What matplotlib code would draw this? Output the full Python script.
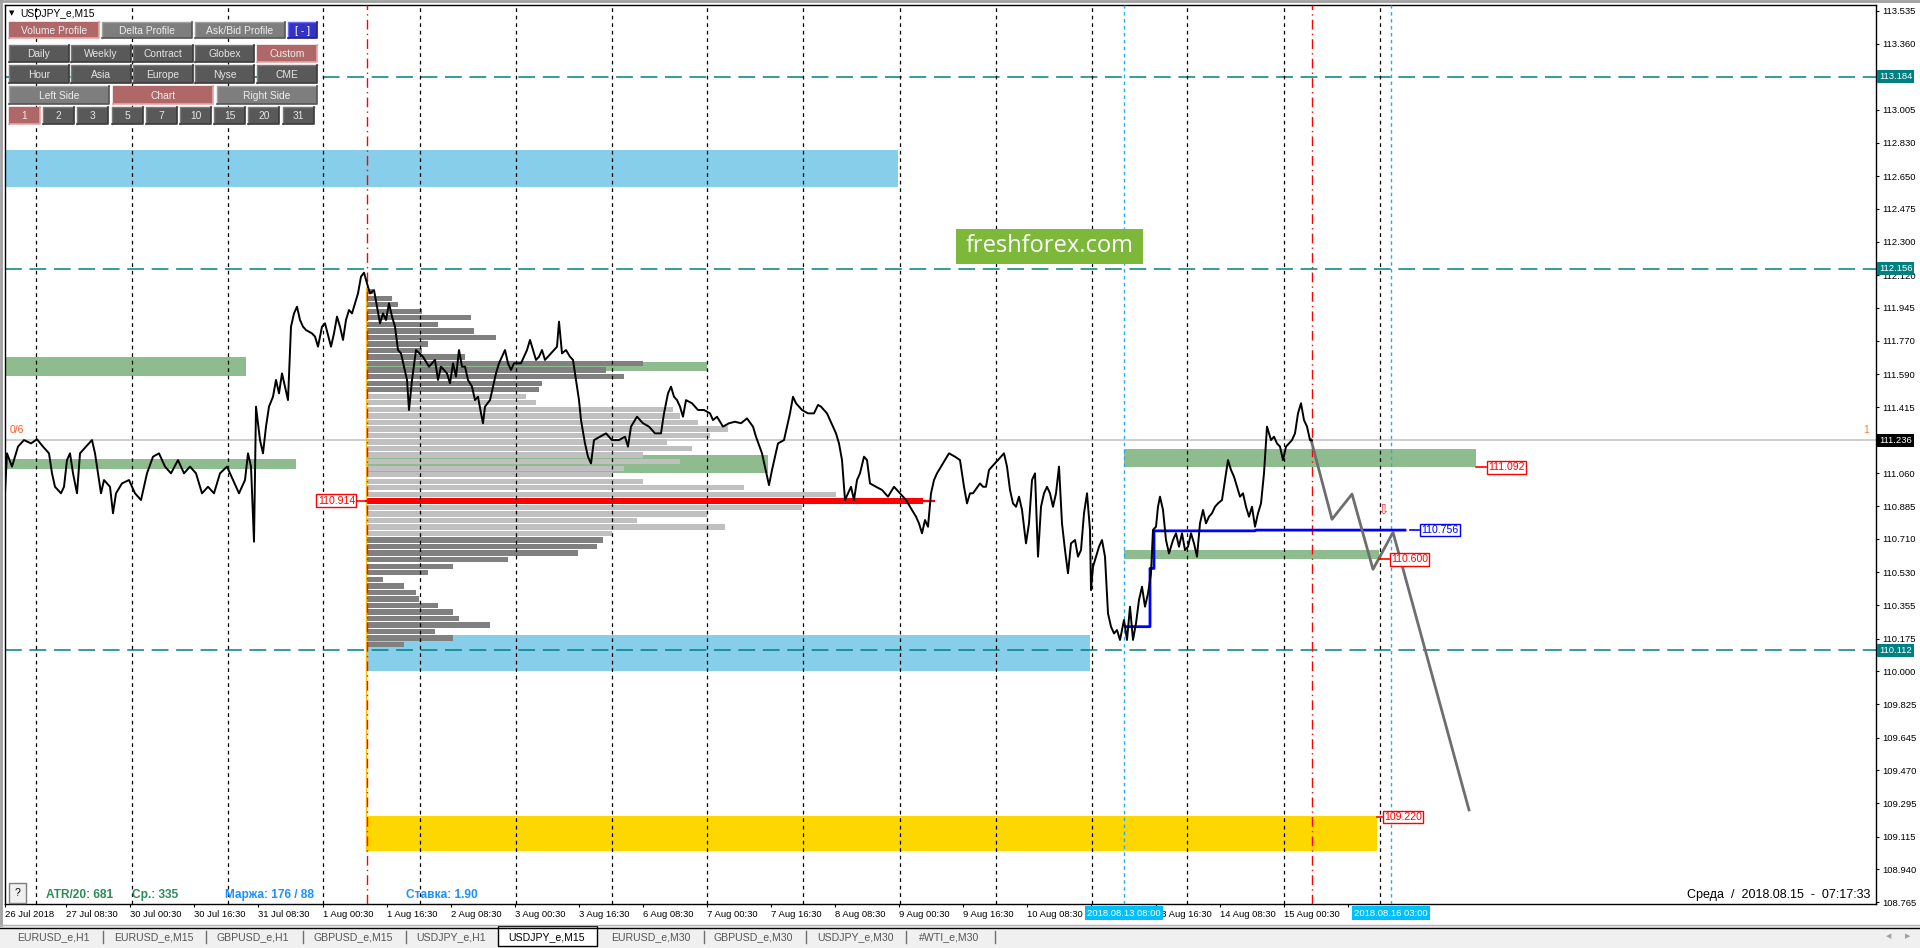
import matplotlib
matplotlib.use("Agg")
import matplotlib.pyplot as plt
from matplotlib.patches import Rectangle

plt.rcParams['font.family'] = ['Liberation Sans', 'DejaVu Sans']

# ---- USDJPY M15, bar index (one bar per pixel column) and price
bar_idx = [5, 7, 12, 18, 24, 31, 37, 43, 49, 52,
           55, 61, 64, 67, 70, 73, 77, 80, 86, 92,
           95, 98, 101, 104, 110, 113, 116, 122, 129, 135,
           141, 147, 153, 159, 165, 171, 178, 184, 190, 196,
           202, 208, 214, 220, 227, 233, 239, 245, 248, 251,
           254, 256, 260, 263, 266, 269, 273, 276, 279, 282,
           285, 288, 291, 294, 297, 300, 303, 306, 312, 315,
           318, 322, 325, 331, 334, 337, 340, 343, 346, 349,
           352, 355, 358, 361, 364, 367, 370, 374, 377, 380,
           383, 386, 389, 392, 395, 398, 401, 404, 407, 409,
           412, 416, 423, 429, 435, 438, 441, 447, 450, 453,
           456, 459, 462, 465, 468, 472, 475, 478, 481, 483,
           485, 490, 493, 496, 499, 502, 505, 508, 511, 514,
           521, 527, 530, 533, 536, 539, 542, 545, 551, 554,
           557, 559, 562, 566, 570, 573, 576, 579, 581, 585,
           588, 591, 594, 600, 606, 612, 619, 625, 628, 631,
           637, 643, 649, 655, 661, 664, 668, 671, 674, 677,
           680, 683, 686, 692, 698, 704, 710, 713, 717, 723,
           729, 735, 741, 747, 753, 756, 762, 769, 772, 778,
           784, 787, 790, 793, 796, 802, 808, 814, 818, 821,
           827, 830, 833, 836, 839, 842, 845, 848, 851, 854,
           857, 860, 864, 867, 870, 876, 882, 888, 894, 900,
           906, 912, 916, 919, 922, 925, 928, 931, 934, 937,
           943, 949, 955, 960, 964, 967, 970, 973, 980, 983,
           986, 989, 992, 998, 1001, 1004, 1007, 1010, 1013, 1016,
           1019, 1022, 1026, 1029, 1032, 1035, 1038, 1041, 1044, 1047,
           1050, 1053, 1056, 1059, 1062, 1065, 1068, 1071, 1075, 1078,
           1081, 1084, 1087, 1090, 1091, 1093, 1096, 1099, 1102, 1105,
           1108, 1111, 1114, 1117, 1120, 1124, 1127, 1130, 1133, 1136,
           1139, 1142, 1145, 1148, 1151, 1153, 1156, 1158, 1160, 1163,
           1166, 1169, 1173, 1176, 1179, 1182, 1185, 1188, 1191, 1194,
           1197, 1200, 1203, 1206, 1209, 1212, 1215, 1218, 1222, 1225,
           1228, 1231, 1234, 1237, 1240, 1243, 1246, 1249, 1252, 1255,
           1258, 1261, 1264, 1267, 1271, 1274, 1277, 1280, 1283, 1286,
           1289, 1292, 1295, 1298, 1301, 1304, 1307, 1310, 1312]
close = [110.953, 111.167, 111.096, 111.203, 111.238, 111.220, 111.242, 111.203, 111.167, 111.060,
         110.988, 110.953, 110.988, 111.131, 111.167, 111.060, 110.953, 111.167, 111.203, 111.238,
         111.167, 111.060, 110.953, 111.024, 110.988, 110.846, 110.953, 111.006, 111.024, 110.953,
         110.917, 111.060, 111.149, 111.167, 111.096, 111.060, 111.131, 111.060, 111.096, 111.060,
         110.953, 110.988, 110.953, 111.060, 111.096, 111.024, 110.953, 111.024, 111.167, 111.096,
         110.694, 111.417, 111.238, 111.167, 111.310, 111.417, 111.470, 111.560, 111.488, 111.595,
         111.524, 111.452, 111.845, 111.916, 111.952, 111.881, 111.845, 111.827, 111.809, 111.792,
         111.738, 111.845, 111.863, 111.738, 111.809, 111.899, 111.845, 111.774, 111.881, 111.934,
         111.916, 111.970, 112.023, 112.113, 112.134, 112.077, 112.023, 112.041, 111.952, 111.863,
         111.916, 111.881, 111.970, 111.899, 111.845, 111.720, 111.702, 111.631, 111.560, 111.399,
         111.560, 111.720, 111.684, 111.631, 111.667, 111.560, 111.631, 111.595, 111.542, 111.649,
         111.577, 111.720, 111.631, 111.631, 111.560, 111.524, 111.452, 111.470, 111.381, 111.328,
         111.417, 111.452, 111.524, 111.595, 111.649, 111.684, 111.720, 111.649, 111.613, 111.649,
         111.649, 111.720, 111.774, 111.720, 111.667, 111.684, 111.720, 111.667, 111.702, 111.720,
         111.738, 111.872, 111.702, 111.720, 111.684, 111.667, 111.560, 111.452, 111.345, 111.220,
         111.149, 111.113, 111.238, 111.256, 111.274, 111.238, 111.238, 111.256, 111.203, 111.310,
         111.363, 111.328, 111.310, 111.274, 111.274, 111.381, 111.488, 111.524, 111.470, 111.452,
         111.417, 111.363, 111.452, 111.435, 111.399, 111.399, 111.381, 111.345, 111.363, 111.310,
         111.328, 111.336, 111.328, 111.354, 111.310, 111.256, 111.167, 110.997, 111.078, 111.220,
         111.238, 111.310, 111.381, 111.470, 111.435, 111.399, 111.381, 111.381, 111.426, 111.417,
         111.381, 111.345, 111.310, 111.274, 111.220, 111.131, 110.917, 110.953, 110.988, 110.917,
         111.024, 111.060, 111.149, 111.131, 111.006, 110.988, 110.971, 110.935, 110.988, 110.953,
         110.917, 110.864, 110.828, 110.792, 110.739, 110.810, 110.774, 110.953, 111.024, 111.060,
         111.113, 111.167, 111.149, 111.131, 110.988, 110.899, 110.953, 110.953, 111.006, 110.988,
         110.988, 111.078, 111.096, 111.131, 111.149, 111.167, 111.096, 110.971, 110.899, 110.881,
         110.935, 110.864, 110.685, 110.792, 111.024, 111.060, 110.614, 110.881, 110.953, 110.988,
         110.953, 110.881, 110.953, 111.096, 110.792, 110.649, 110.525, 110.685, 110.703, 110.614,
         110.649, 110.846, 110.953, 110.757, 110.435, 110.560, 110.614, 110.667, 110.703, 110.614,
         110.310, 110.239, 110.203, 110.221, 110.168, 110.275, 110.168, 110.346, 110.168, 110.257,
         110.382, 110.453, 110.346, 110.417, 110.525, 110.757, 110.774, 110.881, 110.935, 110.864,
         110.703, 110.631, 110.703, 110.739, 110.667, 110.739, 110.649, 110.667, 110.739, 110.685,
         110.614, 110.792, 110.864, 110.792, 110.828, 110.846, 110.881, 110.899, 110.917, 111.024,
         111.131, 111.078, 111.042, 110.988, 110.935, 110.953, 110.881, 110.828, 110.881, 110.774,
         110.846, 110.899, 111.060, 111.310, 111.238, 111.256, 111.220, 111.203, 111.131, 111.203,
         111.220, 111.238, 111.274, 111.381, 111.435, 111.345, 111.310, 111.238, 111.236]

# zones: (first bar, last bar, low price, high price)
blue_zones = [(6, 898, 112.593, 112.791), (366, 1090, 110.002, 110.195)]
green_zones = [(5, 246, 111.581, 111.683), (5, 296, 111.083, 111.137),
               (366, 707, 111.608, 111.656), (366, 768, 111.062, 111.158),
               (1124, 1476, 111.094, 111.190), (1124, 1379, 110.601, 110.650)]
gold_zone = (367, 1377, 109.038, 109.226)

teal_levels = [113.184, 112.156, 110.112]
last_price = 111.236

# volume profile of the 1 Aug - 15 Aug range
prof_start = 366
prof_top = 112.05
prof_step = 0.035
prof_len = [7, 26, 32, 56, 105, 72, 108, 130, 62, 56,
            99, 277, 240, 258, 176, 173, 160, 170, 307, 314,
            332, 362, 344, 301, 326, 277, 314, 258, 246, 277,
            378, 470, 557, 436, 341, 271, 359, 246, 237, 231,
            212, 142, 87, 62, 17, 38, 50, 53, 72, 87,
            93, 124, 69, 87, 38]
poc_price = 110.914
va_high, va_low = 111.48, 110.72

# developing level (blue) and the drawn forecast path (gray)
vwap_x = [1126, 1150, 1150, 1154, 1154, 1255, 1256, 1405]
vwap_y = [110.239, 110.239, 110.551, 110.551, 110.752, 110.752, 110.756, 110.756]
fc_x = [1311, 1332, 1352, 1373, 1393, 1469]
fc_y = [111.24, 110.814, 110.949, 110.546, 110.744, 109.258]

day_lines = [36, 132, 228, 323, 420, 516, 612, 707, 803, 900, 996, 1092, 1187, 1284, 1380]
red_vlines = [367, 1312]
cyan_vlines = [1124, 1391]
cyan_dates = ['2018.08.13 08:00', '2018.08.16 03:00']

# the labels at 13 Aug 00:30 and 15 Aug 16:30 sit under the cyan date boxes
x_tick_bars = [5, 66, 130, 194, 258, 323, 387, 451, 515, 579, 643, 707, 771, 835,
               899, 963, 1027, 1091, 1156, 1220, 1284, 1348]
x_tick_labels = ['26 Jul 2018', '27 Jul 08:30', '30 Jul 00:30', '30 Jul 16:30', '31 Jul 08:30',
                 '1 Aug 00:30', '1 Aug 16:30', '2 Aug 08:30', '3 Aug 00:30', '3 Aug 16:30',
                 '6 Aug 08:30', '7 Aug 00:30', '7 Aug 16:30', '8 Aug 08:30', '9 Aug 00:30',
                 '9 Aug 16:30', '10 Aug 08:30', '', '13 Aug 16:30', '14 Aug 08:30',
                 '15 Aug 00:30', '']
y_ticks = [113.535, 113.360, 113.005, 112.830, 112.650, 112.475, 112.300, 112.120,
           111.945, 111.770, 111.590, 111.415, 111.060, 110.885, 110.710, 110.530,
           110.355, 110.175, 110.000, 109.825, 109.645, 109.470, 109.295, 109.115,
           108.940, 108.765]

tab_names = ['EURUSD_e,H1', 'EURUSD_e,M15', 'GBPUSD_e,H1', 'GBPUSD_e,M15', 'USDJPY_e,H1',
             'USDJPY_e,M15', 'EURUSD_e,M30', 'GBPUSD_e,M30', 'USDJPY_e,M30', '#WTI_e,M30']
active_tab = 'USDJPY_e,M15'

# ---------------------------------------------------------------- figure
W, H = 1920, 948
fig = plt.figure(figsize=(W / 100, H / 100), dpi=100)
fig.patch.set_facecolor('white')
L, R, T, B = 5, 1876, 5, 904
ax = fig.add_axes([L / W, 1 - B / H, (R - L) / W, (B - T) / H])
ax.set_xlim(L, R)
ax.set_ylim(108.7545, 113.567)
for s in ax.spines.values():
    s.set_color('black')
    s.set_linewidth(1)

# zones
for x0, x1, lo, hi in blue_zones:
    ax.add_patch(Rectangle((x0, lo), x1 - x0, hi - lo, fc='#87CEEB', ec='none', zorder=1))
for x0, x1, lo, hi in green_zones:
    ax.add_patch(Rectangle((x0, lo), x1 - x0, hi - lo, fc='#8FBC8F', ec='none', zorder=1))
g0, g1, glo, ghi = gold_zone
ax.add_patch(Rectangle((g0, glo), g1 - g0, ghi - glo, fc='#FFD700', ec='none', zorder=1))

# horizontal levels
for lv in teal_levels:
    ax.axhline(lv, color='#008080', lw=1.1, ls=(0, (11, 5)), zorder=2)
ax.axhline(last_price, color='#C0C0C0', lw=1.1, zorder=2)

# volume profile
levels = [prof_top - prof_step * (i + 0.5) for i in range(len(prof_len))]
colors = []
for p in levels:
    if abs(p - poc_price) < prof_step / 2:
        colors.append('#FF0000')
    elif va_low <= p <= va_high:
        colors.append('#C0C0C0')
    else:
        colors.append('#808080')
ax.barh(levels, prof_len, left=prof_start, height=prof_step * 0.82, color=colors, zorder=3)
ax.plot([prof_start, prof_start + 568], [poc_price, poc_price], color='#FF0000', lw=1.6, zorder=4.5)
ax.plot([prof_start, prof_start], [gold_zone[2], prof_top], color='#FFC000', lw=1, zorder=4)

# vertical separators
for x in day_lines:
    ax.axvline(x, color='black', lw=0.9, ls=(0, (3, 3)), zorder=4)
for x in red_vlines:
    ax.axvline(x, color='#FF0000', lw=1, ls=(0, (7, 3, 1, 3)), zorder=4)
for x in cyan_vlines:
    ax.axvline(x, color='#1EAEEA', lw=1, ls=(0, (2.5, 2.5)), zorder=4)

# lines
ax.plot(vwap_x, vwap_y, color='#0000FF', lw=2, zorder=5)
ax.plot(fc_x, fc_y, color='#6E6E6E', lw=2, zorder=5)
ax.plot(bar_idx, close, color='black', lw=1.4, zorder=6)


def tag(x, price, text, color, tick=10):
    ax.plot([x, x + tick], [price, price], color=color, lw=1.2, zorder=7)
    ax.text(x + tick + 2, price, text, color=color, fontsize=7.6, ha='left', va='center', zorder=8,
            bbox=dict(boxstyle='square,pad=0.12', fc='white', ec=color, lw=1))


tag(1476, 111.092, '111.092', '#FF0000')
tag(1379, 110.600, '110.600', '#FF0000')
tag(1377, 109.220, '109.220', '#FF0000', tick=5)
tag(1410, 110.756, '110.756', '#0000FF', tick=9)
ax.plot([prof_start - 9, prof_start], [poc_price, poc_price], color='#FF0000', lw=1.2, zorder=7)
ax.text(prof_start - 11, poc_price, '110.914', color='#FF0000', fontsize=7.6, ha='right',
        va='center', zorder=8, bbox=dict(boxstyle='square,pad=0.12', fc='white', ec='#FF0000', lw=1))

ax.text(1383, 110.869, '\u21e9', color='#FF3030', fontsize=10, ha='center', va='center', zorder=8,
        family=['DejaVu Sans'])
ax.text(10, 111.292, '0/6', color='#FF5722', fontsize=7.5, ha='left', va='center', zorder=8)
ax.text(1869, 111.292, '1', color='#FF7F27', fontsize=7.5, ha='right', va='center', zorder=8)

# axes ticks
ax.yaxis.tick_right()
ax.set_yticks(y_ticks)
ax.set_yticklabels(['%.3f' % v for v in y_ticks])
ax.tick_params(axis='y', labelsize=6.8, length=2.2, pad=2, direction='out')
ax.set_xticks(x_tick_bars)
ax.set_xticklabels(x_tick_labels)
ax.tick_params(axis='x', labelsize=6.8, length=2.5, pad=1.5, direction='out')
for lbl in ax.get_xticklabels():
    lbl.set_horizontalalignment('left')


def axis_tag(price, text, fc):
    ax.annotate(text, xy=(1, price), xycoords=('axes fraction', 'data'), xytext=(3, 0),
                textcoords='offset pixels', ha='left', va='center', fontsize=6.8, color='white',
                annotation_clip=False, zorder=9,
                bbox=dict(boxstyle='square,pad=0.2', fc=fc, ec='none'))


for lv in teal_levels:
    axis_tag(lv, '%.3f' % lv, '#008080')
axis_tag(last_price, '%.3f' % last_price, 'black')

for x, txt in zip(cyan_vlines, cyan_dates):
    ax.annotate(txt, xy=(x, 0), xycoords=('data', 'axes fraction'), xytext=(0, -9),
                textcoords='offset pixels', ha='center', va='center', fontsize=6.8, color='white',
                annotation_clip=False, zorder=9,
                bbox=dict(boxstyle='square,pad=0.25', fc='#00BFFF', ec='none'))

# ---------------------------------------------------------------- terminal UI overlay
ui = fig.add_axes([0, 0, 1, 1], zorder=5)
ui.set_xlim(0, W)
ui.set_ylim(H, 0)
ui.axis('off')
ui.patch.set_visible(False)

# window frame
ui.plot([1, 1], [0, 925], color='#A0A0A0', lw=2)
ui.plot([0, W], [1, 1], color='#A0A0A0', lw=2)

styles = {
    'rose': ('#B06767', '#B06767', '#E8A5A5', '#EDEDED'),
    'gray': ('#7E7E7E', '#A0A0A0', '#555555', '#EDEDED'),
    'dark': ('#595959', '#7A7A7A', '#3A3A3A', '#E6E6E6'),
    'blue': ('#3434C0', '#6A6AFF', '#20208A', '#FFFFFF'),
}


def button(x0, x1, y0, y1, text, style):
    face, tl, br, fg = styles[style]
    ui.add_patch(Rectangle((x0, y0), x1 - x0, y1 - y0, fc=face, ec='none'))
    ui.plot([x0, x0, x1], [y1, y0, y0], color=tl, lw=1)
    ui.plot([x0, x1, x1], [y1, y1, y0], color=br, lw=1.2)
    ui.text((x0 + x1) / 2, (y0 + y1) / 2 + 0.5, text, ha='center', va='center', color=fg, fontsize=7.4)


ui.text(12, 13, '\u25bc', fontsize=5, ha='center', va='center', color='black', family=['DejaVu Sans'])
ui.text(20, 13, 'USDJPY_e,M15', fontsize=7.4, ha='left', va='center', color='black')

row1 = [(9, 99, 'Volume Profile', 'rose'), (102, 192, 'Delta Profile', 'gray'),
        (195, 285, 'Ask/Bid Profile', 'gray'), (288, 317, '[ - ]', 'blue')]
for x0, x1, t, st in row1:
    button(x0, x1, 22, 38, t, st)
cols5 = [(9, 69), (71, 131), (133, 193), (195, 254), (257, 317)]
row2 = ['Daily', 'Weekly', 'Contract', 'Globex', 'Custom']
row3 = ['Hour', 'Asia', 'Europe', 'Nyse', 'CME']
for (x0, x1), t in zip(cols5, row2):
    button(x0, x1, 45, 62, t, 'rose' if t == 'Custom' else 'dark')
for (x0, x1), t in zip(cols5, row3):
    button(x0, x1, 65, 83, t, 'dark')
row4 = [(9, 109, 'Left Side', 'gray'), (113, 213, 'Chart', 'rose'), (217, 317, 'Right Side', 'gray')]
for x0, x1, t, st in row4:
    button(x0, x1, 86, 104, t, st)
row5 = ['1', '2', '3', '5', '7', '10', '15', '20', '31']
for i, t in enumerate(row5):
    x0 = 9 + i * 34.2
    button(x0, x0 + 31, 107, 124, t, 'rose' if t == '1' else 'dark')

# watermark
ui.add_patch(Rectangle((956, 229), 187, 35, fc='#7DB83A', ec='none'))
ui.text(1049.5, 245.5, 'freshforex.com', color='white', fontsize=17, ha='center', va='center',
        family=['Open Sans', 'DejaVu Sans'])

# status line
ui.add_patch(Rectangle((9, 883), 17, 20, fc='#F0F0F0', ec='#808080', lw=1))
ui.text(17.5, 893, '?', fontsize=7.5, ha='center', va='center', color='black')
status = [(46, 'ATR/20: 681', '#2E8B57'), (132, 'Ср.: 335', '#2E8B57'),
          (225, 'Маржа: 176 / 88', '#1E90FF'), (406, 'Ставка: 1.90', '#1E90FF')]
for x, t, c in status:
    ui.text(x, 895, t, color=c, fontsize=8.6, fontweight='bold', ha='left', va='center')
ui.text(1870, 895, 'Среда  /  2018.08.15  -  07:17:33', color='black', fontsize=9,
        ha='right', va='center')

# tab bar
ui.add_patch(Rectangle((0, 926), W, H - 926, fc='#F0F0F0', ec='none'))
ui.plot([0, W], [925, 925], color='#B4B4B4', lw=1)
ui.plot([0, W], [927.5, 927.5], color='black', lw=1)
tab_centers = [53, 154, 253, 353, 451, 547, 651, 753, 855, 949]
seps = [103, 206, 303, 406, 704, 806, 906, 995]
for x in seps:
    ui.plot([x, x], [931, 943], color='#707070', lw=1)
for x, t in zip(tab_centers, tab_names):
    if t == active_tab:
        ui.add_patch(Rectangle((498, 926), 99, 20, fc='white', ec='black', lw=1))
        ui.text(x, 937, t, fontsize=7.6, ha='center', va='center', color='black')
    else:
        ui.text(x, 937, t, fontsize=7.6, ha='center', va='center', color='#555555')
ui.text(1889, 936, '\u25c0', fontsize=5, ha='center', va='center', color='#A0A0A0', family=['DejaVu Sans'])
ui.text(1908, 936, '\u25b6', fontsize=5, ha='center', va='center', color='#A0A0A0', family=['DejaVu Sans'])

fig.savefig('out.png', dpi=100)
